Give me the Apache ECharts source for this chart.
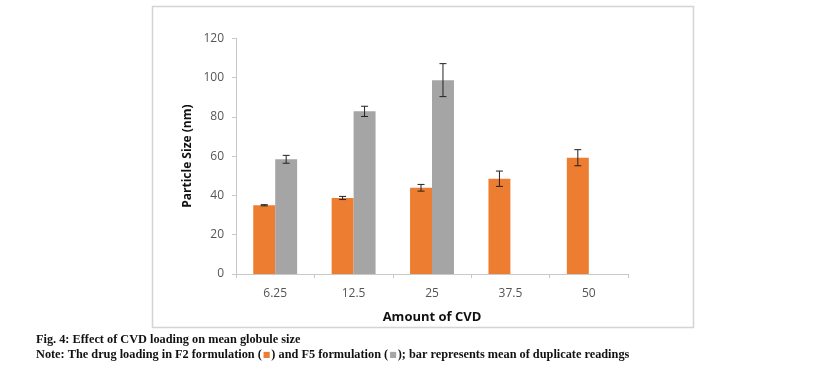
<!DOCTYPE html>
<html>
<head>
<meta charset="utf-8">
<script src="https://cdn.jsdelivr.net/npm/echarts@6/dist/echarts.min.js"></script>
<style>
html,body{margin:0;padding:0;background:#fff;}
#chart{width:819px;height:367px;}
</style>
</head>
<body>
<div id="chart"></div>
<script>
const categories = ['6.25', '12.5', '25', '37.5', '50'];
const f2Mean = [35.0, 38.7, 43.9, 48.5, 59.2];
const f2Err = [0.3, 0.8, 1.7, 3.9, 4.1];
const f5Mean = [58.4, 82.8, 98.7, null, null];
const f5Err = [2.0, 2.6, 8.4, null, null];
const yTicks = [0, 20, 40, 60, 80, 100, 120];

const ORANGE = '#ED7D31';
const GRAY = '#A5A5A5';

function errData(means, errs) {
  return categories.map((c, i) => means[i] == null ? [i, null, null, null] : [i, means[i], means[i] - errs[i], means[i] + errs[i]]);
}

function makeErrRender(sign) {
  return function (params, api) {
    if (api.value(1) == null || isNaN(api.value(1))) return;
    const idx = api.value(0);
    const band = api.size([1, 0])[0];
    const offset = sign * band * 0.14;
    const lo = api.coord([idx, api.value(2)]);
    const hi = api.coord([idx, api.value(3)]);
    const x = lo[0] + offset;
    const cap = 3.5;
    const style = { stroke: '#222', lineWidth: 1 };
    return {
      type: 'group',
      children: [
        { type: 'line', shape: { x1: x, y1: lo[1], x2: x, y2: hi[1] }, style: style },
        { type: 'line', shape: { x1: x - cap, y1: lo[1], x2: x + cap, y2: lo[1] }, style: style },
        { type: 'line', shape: { x1: x - cap, y1: hi[1], x2: x + cap, y2: hi[1] }, style: style }
      ]
    };
  };
}

const chart = echarts.init(document.getElementById('chart'), null, { renderer: 'canvas' });
chart.setOption({
  animation: false,
  backgroundColor: '#fff',
  grid: { left: 236, top: 38.3, right: 191, bottom: 93, containLabel: false },
  xAxis: {
    type: 'category',
    data: categories,
    name: 'Amount of CVD',
    nameLocation: 'middle',
    nameGap: 37,
    nameTextStyle: { fontFamily: 'Open Sans', fontWeight: 'bold', fontSize: 13, color: '#111' },
    axisLine: { lineStyle: { color: '#c8c8c8', width: 1 } },
    axisTick: { show: true, length: 4, lineStyle: { color: '#c8c8c8' } },
    axisLabel: { fontFamily: 'Open Sans', fontSize: 12, color: '#555', margin: 14 }
  },
  yAxis: {
    type: 'value',
    min: 0,
    max: 120,
    interval: 20,
    name: 'Particle Size (nm)',
    nameLocation: 'middle',
    nameGap: 42,
    nameRotate: 90,
    nameTextStyle: { fontFamily: 'Open Sans', fontWeight: 'bold', fontSize: 12, color: '#111' },
    axisLine: { show: true, lineStyle: { color: '#c8c8c8', width: 1 } },
    axisTick: { show: true, length: 4, lineStyle: { color: '#c8c8c8' } },
    splitLine: { show: false },
    axisLabel: { fontFamily: 'Open Sans', fontSize: 12, color: '#555', margin: 12,
      formatter: v => yTicks.includes(v) ? String(v) : '' }
  },
  series: [
    { name: 'F2', type: 'bar', data: f2Mean, barWidth: '28%', barGap: '0%', itemStyle: { color: ORANGE } },
    { name: 'F5', type: 'bar', data: f5Mean, barWidth: '28%', barGap: '0%', itemStyle: { color: GRAY } },
    { name: 'F2 err', type: 'custom', renderItem: makeErrRender(-1), data: errData(f2Mean, f2Err), z: 10,
      encode: { x: 0, y: [1, 2, 3] } },
    { name: 'F5 err', type: 'custom', renderItem: makeErrRender(1), data: errData(f5Mean, f5Err), z: 10,
      encode: { x: 0, y: [1, 2, 3] } }
  ],
  graphic: [
    { type: 'rect', shape: { x: 152.5, y: 6.5, width: 541, height: 321 }, style: { fill: 'none', stroke: '#d4d4d4', lineWidth: 1.5 }, z: -1 },
    { type: 'text', left: 36, top: 334, style: { text: 'Fig. 4: Effect of CVD loading on mean globule size', fontFamily: 'Liberation Serif', fontWeight: 'bold', fontSize: 12.3, fill: '#111' } },
    { type: 'text', left: 36, top: 349, style: {
        text: 'Note: The drug loading in F2 formulation ({o|■}) and F5 formulation ({g|■}); bar represents mean of duplicate readings',
        fontFamily: 'Liberation Serif', fontWeight: 'bold', fontSize: 12.3, fill: '#111',
        rich: {
          o: { fill: ORANGE, fontSize: 8, fontFamily: 'DejaVu Sans', padding: [0, 1, 0, 1] },
          g: { fill: GRAY, fontSize: 8, fontFamily: 'DejaVu Sans', padding: [0, 1, 0, 1] }
        }
      } }
  ]
});
</script>
</body>
</html>
